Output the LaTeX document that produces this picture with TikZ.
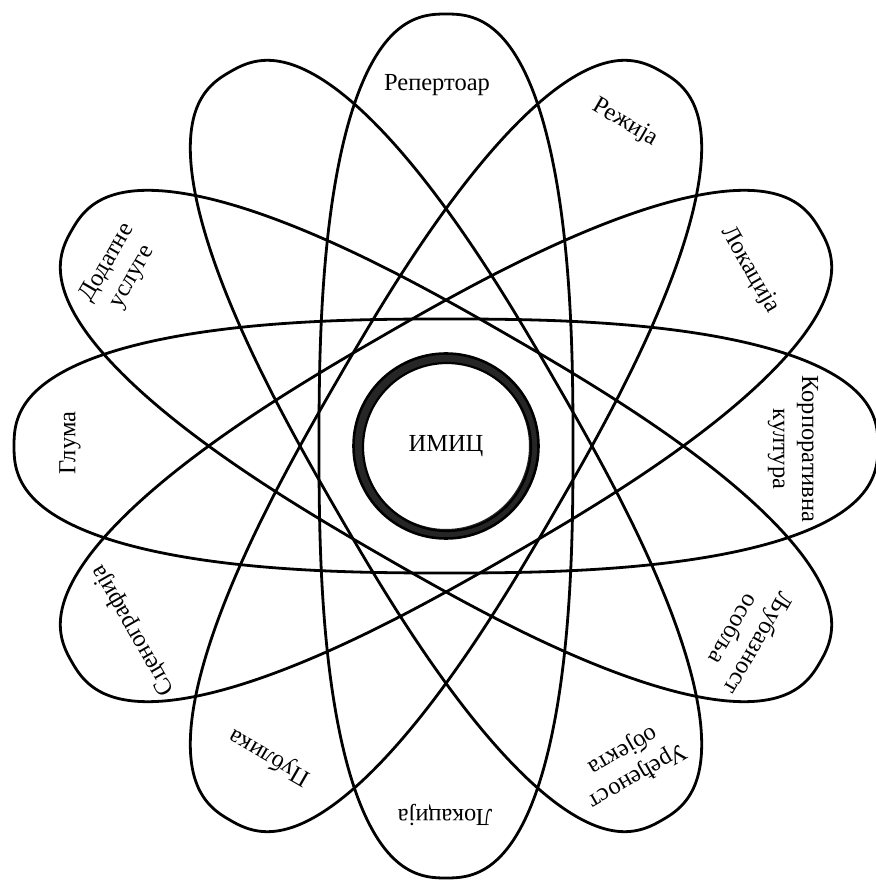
\documentclass[tikz,border=0pt]{standalone}
\usepackage{fontspec}
\setmainfont{Liberation Serif}
\begin{document}
\begin{tikzpicture}[x=1pt,y=1pt,
  petal/.style={line width=2.8pt, black},
  lbl/.style={font=\fontsize{24.5}{29}\selectfont, align=center, inner sep=0pt}]
\useasboundingbox (-446,-436) rectangle (429,446);
\fill[white] (-446,-436) rectangle (429,446);
\foreach \a in {0,30,...,150}{
  \draw[petal, rotate=\a] plot[smooth cycle, domain=1:359, samples=180]
    ({432*cos(\x)*abs(cos(\x))^(-0.2)}, {127*sin(\x)*abs(sin(\x))^(-0.2)});
}
\node[circle, fill=white, draw=black!85, line width=10pt, minimum size=176pt,
      font=\fontsize{24.5}{29}\selectfont] (core) at (0,0) {ИМИЦ};
\draw[line width=2.6pt] (core.center) circle (92.5);
\draw[line width=2.2pt] ([shift={(1,-1)}]core.center) circle (84);
\node[lbl, rotate=0]    (rep) at (-9,361)   {Репертоар};
\node[lbl, rotate=-30]  (rez) at (179,323)  {Режија};
\node[lbl, rotate=-60]  (lok1) at (304,176) {Локација};
\node[lbl, rotate=-90]  (kor) at (347,-3)   {Корпоративна\\култура};
\node[lbl, rotate=-120] (ljub) at (301,-191) {Љубазност\\особља};
\node[lbl, rotate=-150] (ured) at (184,-317) {Уређеност\\објекта};
\node[lbl, rotate=180]  (lok2) at (-1,-369) {Локација};
\node[lbl, rotate=150]  (pub) at (-176,-311) {Публика};
\node[lbl, rotate=120]  (scen) at (-313,-184) {Сценографија};
\node[lbl, rotate=90]   (glu) at (-376,3)   {Глума};
\node[lbl, rotate=60]   (dod) at (-326,176) {Додатне\\услуге};
\end{tikzpicture}
\end{document}
